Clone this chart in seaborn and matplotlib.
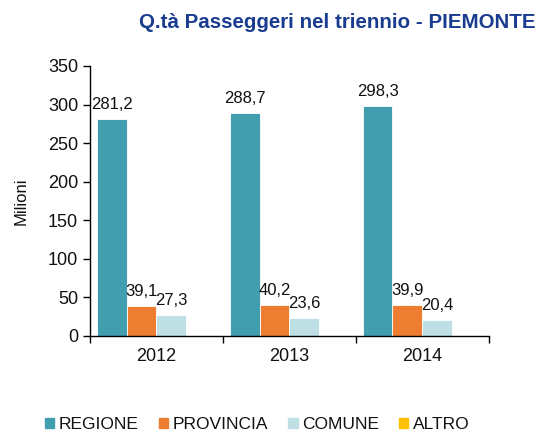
import pandas as pd
import matplotlib.pyplot as plt
import seaborn as sns

years = ["2012", "2013", "2014"]
categories = ["REGIONE", "PROVINCIA", "COMUNE", "ALTRO"]
regione = [281.2, 288.7, 298.3]
provincia = [39.1, 40.2, 39.9]
comune = [27.3, 23.6, 20.4]
altro = [0.0, 0.0, 0.0]

palette = ["#409EAF", "#ED7D31", "#BEDFE4", "#FFC000"]

df = pd.DataFrame({
    "anno": years * 4,
    "tipo": [c for c in categories for _ in years],
    "valore": regione + provincia + comune + altro,
})

sns.set_style("white")
plt.rcParams["font.family"] = ["Liberation Sans", "DejaVu Sans"]

fig = plt.figure(figsize=(5.39, 4.34), dpi=100)
ax = fig.add_axes([0.167, 0.226, 0.74, 0.622])

sns.barplot(data=df, x="anno", y="valore", hue="tipo", hue_order=categories,
            palette=palette, width=0.9, saturation=1, ax=ax, legend=False,
            edgecolor="white", linewidth=0.6)

# data labels, skip the empty ALTRO bars
for cont, name in zip(ax.containers, categories):
    if name == "ALTRO":
        continue
    labels = [f"{v:.1f}".replace(".", ",") for v in cont.datavalues]
    ax.bar_label(cont, labels=labels, padding=5, fontsize=12, color="#111111")

ax.set_ylim(0, 350)
ax.set_yticks(range(0, 351, 50))
ax.set_xlim(-0.5, 2.5)
ax.set_xlabel("")
ax.set_ylabel("Milioni", fontsize=12, labelpad=14, color="#111111")
ax.tick_params(axis="y", labelsize=13, length=5, width=1, color="black",
               left=True, labelcolor="#111111")
ax.tick_params(axis="x", labelsize=13, length=0, pad=9, labelcolor="#111111")
ax.set_xticks([-0.5, 0.5, 1.5, 2.5], minor=True)
ax.tick_params(axis="x", which="minor", length=5, width=1, color="black", bottom=True)
for s in ["top", "right"]:
    ax.spines[s].set_visible(False)
for s in ["left", "bottom"]:
    ax.spines[s].set_color("black")
    ax.spines[s].set_linewidth(1)

handles = [plt.Rectangle((0, 0), 1, 1, color=c) for c in palette]
fig.legend(handles, categories, loc="lower center", bbox_to_anchor=(0.477, -0.032),
           ncol=4, frameon=False, fontsize=12.5, handlelength=0.55, handleheight=0.55,
           handletextpad=0.25, columnspacing=1.15, labelcolor="#111111")

fig.text(0.993, 0.948, "Q.tà Passeggeri nel triennio - PIEMONTE", ha="right",
         va="center", fontsize=14.8, fontweight="bold", color="#1A3C8F")

fig.savefig("out.png", dpi=100)
